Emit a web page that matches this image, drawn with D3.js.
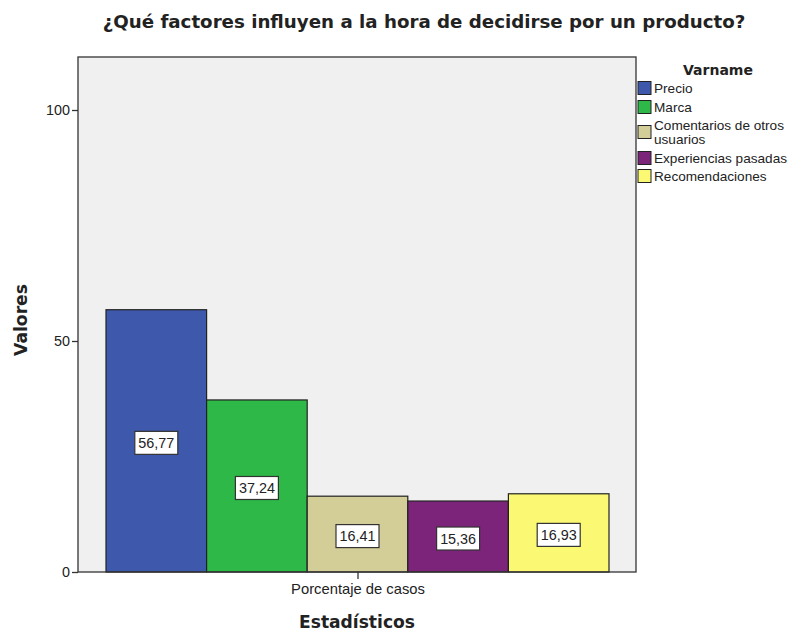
<!DOCTYPE html>
<html><head><meta charset="utf-8">
<script src="https://cdn.jsdelivr.net/npm/d3@7"></script>
<style>body{margin:0;background:#fff;} text{font-family:Arial,"Liberation Sans",sans-serif;} .b{font-family:"DejaVu Sans",Verdana,sans-serif;font-weight:bold;}</style>
</head><body><svg id="c" width="802" height="633"></svg>
<script>
const categories = ["Precio","Marca","Comentarios de otros usuarios","Experiencias pasadas","Recomendaciones"];
const legendLines = [["Precio"],["Marca"],["Comentarios de otros","usuarios"],["Experiencias pasadas"],["Recomendaciones"]];
const values = [56.77, 37.24, 16.41, 15.36, 16.93];
const valueLabels = ["56,77","37,24","16,41","15,36","16,93"];
const colors = ["#3e58ac","#2eb848","#d3ce97","#7b2479","#fbf873"];
const yTicks = [0,50,100];
const xCategory = ["Porcentaje de casos"];

const svg = d3.select("#c");
const L=78, R=636, T=57, B=572;
const y = d3.scaleLinear().domain([0,100]).range([B,110]);
const x1 = d3.scaleBand().domain(categories).range([106,609]);

function fit(sel, w, base){ sel.attr("font-size",base); const l=sel.node().getComputedTextLength(); sel.attr("font-size",base*w/l); return sel; }

svg.append("rect").attr("x",L).attr("y",T).attr("width",R-L).attr("height",B-T).attr("fill","#f0f0f0");

svg.selectAll("rect.bar").data(values).enter().append("rect").attr("class","bar")
  .attr("x",(d,i)=>x1(categories[i])).attr("width",x1.bandwidth())
  .attr("y",d=>y(d)).attr("height",d=>B-y(d))
  .attr("fill",(d,i)=>colors[i]).attr("stroke","#222").attr("stroke-width",1.2);

const lab = svg.selectAll("g.lab").data(values).enter().append("g").attr("class","lab")
  .attr("transform",(d,i)=>`translate(${x1(categories[i])+x1.bandwidth()/2},${(y(d)+B)/2+2})`);
lab.append("rect").attr("x",-21.5).attr("y",-11.5).attr("width",43).attr("height",23)
  .attr("fill","#fff").attr("stroke","#333").attr("stroke-width",1.2);
lab.append("text").attr("text-anchor","middle").attr("dy","0.36em").attr("fill","#222")
  .text((d,i)=>valueLabels[i]).each(function(){ fit(d3.select(this),36,13); });

svg.append("rect").attr("x",L).attr("y",T).attr("width",R-L).attr("height",B-T).attr("fill","none").attr("stroke","#333").attr("stroke-width",1.3);

const yAxis = svg.append("g").attr("transform",`translate(${L},0)`)
  .call(d3.axisLeft(y).tickValues(yTicks).tickSize(6).tickPadding(2));
yAxis.select(".domain").remove();
yAxis.selectAll("line").attr("stroke","#333").attr("stroke-width",1.3);
yAxis.selectAll("text").attr("fill","#222").attr("font-family","Arial,'Liberation Sans',sans-serif");
const t100 = yAxis.selectAll(".tick text").filter(d=>d===100);
fit(t100,24,13);
yAxis.selectAll(".tick text").attr("font-size",t100.attr("font-size"));

const xAxis = svg.append("g").attr("transform",`translate(0,${B})`)
  .call(d3.axisBottom(d3.scalePoint().domain(xCategory).range([357.5,357.5])).tickSize(7).tickPadding(5));
xAxis.select(".domain").remove();
xAxis.selectAll("line").attr("stroke","#333").attr("stroke-width",1.3);
xAxis.selectAll("text").attr("fill","#222").attr("font-family","Arial,'Liberation Sans',sans-serif").each(function(){ fit(d3.select(this),134,13); });

fit(svg.append("text").attr("class","b").attr("x",424).attr("y",28).attr("text-anchor","middle").attr("fill","#222")
  .text("¿Qué factores influyen a la hora de decidirse por un producto?"),643,17);
fit(svg.append("text").attr("class","b").attr("x",357).attr("y",628).attr("text-anchor","middle").attr("fill","#222").text("Estadísticos"),116,17);
fit(svg.append("text").attr("class","b").attr("transform","translate(27,320) rotate(-90)").attr("text-anchor","middle").attr("fill","#222").text("Valores"),72,17);

// legend
fit(svg.append("text").attr("class","b").attr("x",718).attr("y",75).attr("text-anchor","middle").attr("fill","#222").text("Varname"),70,14);
const legY = [88,107,132,158,176];
const lg = svg.selectAll("g.leg").data(categories).enter().append("g").attr("class","leg")
  .attr("transform",(d,i)=>`translate(638,${legY[i]})`);
lg.append("rect").attr("x",0).attr("y",-6.5).attr("width",13).attr("height",13).attr("fill",(d,i)=>colors[i]).attr("stroke","#222").attr("stroke-width",1);
const legSize = 13.6;
lg.each(function(d,i){
  const g=d3.select(this); const lines=legendLines[i];
  lines.forEach((t,j)=>{
    g.append("text").attr("x",16).attr("y",(j-(lines.length-1)/2)*14.5).attr("dy","0.36em").attr("font-size",legSize).attr("fill","#222").text(t);
  });
});
</script></body></html>
